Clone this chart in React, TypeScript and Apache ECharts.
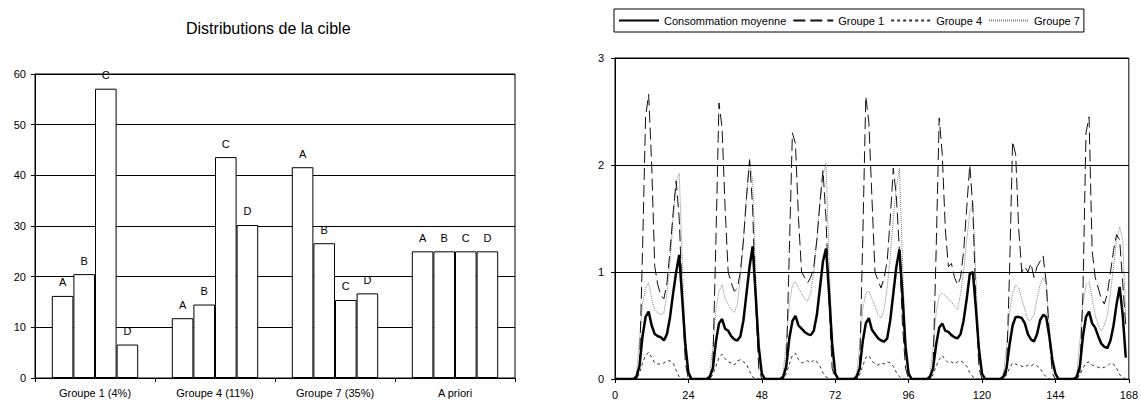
import React, { useEffect, useRef } from "react";
import * as echarts from "echarts";

// ---- Left chart data ----
const categories = ["Groupe 1 (4%)", "Groupe 4 (11%)", "Groupe 7 (35%)", "A priori"];
const classA = [16.2, 11.8, 41.6, 25];
const classB = [20.5, 14.5, 26.6, 25];
const classC = [57.1, 43.6, 15.4, 25];
const classD = [6.6, 30.2, 16.7, 25];
const barTicks = [0, 10, 20, 30, 40, 50, 60];

// ---- Right chart data (hourly, 168 hours) ----
const hourTicks = [0, 24, 48, 72, 96, 120, 144, 168];
const consommation = [
  0, 0, 0, 0, 0, 0, 0, 0.02, 0.12, 0.4, 0.58, 0.63, 0.5, 0.42, 0.4, 0.39, 0.36, 0.42, 0.58, 0.8, 1.0, 1.16, 0.74, 0.32,
  0.06, 0, 0, 0, 0, 0, 0, 0.02, 0.1, 0.35, 0.52, 0.56, 0.47, 0.45, 0.4, 0.37, 0.36, 0.4, 0.55, 0.8, 1.05, 1.24, 0.78, 0.3,
  0.05, 0, 0, 0, 0, 0, 0, 0.02, 0.12, 0.38, 0.54, 0.59, 0.5, 0.47, 0.44, 0.42, 0.41, 0.45, 0.6, 0.85, 1.1, 1.22, 0.8, 0.33,
  0.05, 0, 0, 0, 0, 0, 0, 0.02, 0.1, 0.35, 0.52, 0.57, 0.46, 0.42, 0.38, 0.36, 0.35, 0.38, 0.55, 0.8, 1.05, 1.21, 0.78, 0.3,
  0.05, 0, 0, 0, 0, 0, 0, 0.02, 0.1, 0.32, 0.48, 0.52, 0.45, 0.44, 0.41, 0.39, 0.38, 0.42, 0.55, 0.75, 0.98, 1.0, 0.66, 0.28,
  0.05, 0, 0, 0, 0, 0, 0, 0.02, 0.1, 0.32, 0.5, 0.58, 0.58, 0.57, 0.52, 0.42, 0.37, 0.35, 0.42, 0.55, 0.6, 0.58, 0.4, 0.18,
  0.05, 0, 0, 0, 0, 0, 0, 0.02, 0.12, 0.4, 0.58, 0.63, 0.52, 0.48, 0.4, 0.33, 0.3, 0.29, 0.36, 0.5, 0.7, 0.86, 0.6, 0.2,
];
const groupe1 = [
  0, 0, 0, 0, 0, 0, 0, 0, 0.1, 1.2, 2.45, 2.66, 2.0, 1.05, 0.88, 0.78, 0.75, 0.9, 1.2, 1.55, 1.85, 1.5, 0.75, 0.15,
  0, 0, 0, 0, 0, 0, 0, 0, 0.15, 1.3, 2.58, 2.35, 1.6, 1.0, 0.9, 0.82, 0.85, 1.0, 1.3, 1.7, 2.05, 1.6, 0.7, 0.1,
  0, 0, 0, 0, 0, 0, 0, 0, 0.1, 1.2, 2.3, 2.2, 1.5, 1.0, 0.95, 0.9, 0.95, 1.05, 1.3, 1.65, 1.95, 1.5, 0.7, 0.1,
  0, 0, 0, 0, 0, 0, 0, 0, 0.1, 1.3, 2.64, 2.4, 1.7, 1.0, 0.92, 0.85, 0.95, 1.1, 1.5, 1.97, 1.7, 1.2, 0.5, 0.1,
  0, 0, 0, 0, 0, 0, 0, 0, 0.1, 1.2, 2.44, 2.1, 1.4, 1.05, 1.08, 0.95, 0.88, 0.95, 1.2, 1.6, 2.0, 1.6, 0.7, 0.1,
  0, 0, 0, 0, 0, 0, 0, 0, 0.05, 1.0, 2.22, 2.1, 1.4, 1.0, 1.05, 1.0, 1.08, 0.95, 1.05, 1.1, 1.15, 0.9, 0.4, 0.05,
  0, 0, 0, 0, 0, 0, 0, 0, 0.05, 0.8, 2.3, 2.45, 1.2, 0.95, 0.85, 0.75, 0.7, 0.8, 1.0, 1.2, 1.35, 1.3, 0.9, 0.5,
];
const groupe4 = [
  0, 0, 0, 0, 0, 0, 0, 0, 0.05, 0.15, 0.22, 0.25, 0.2, 0.15, 0.14, 0.14, 0.15, 0.17, 0.17, 0.15, 0.08, 0.02, 0, 0,
  0, 0, 0, 0, 0, 0, 0, 0, 0.04, 0.12, 0.2, 0.23, 0.19, 0.16, 0.15, 0.13, 0.17, 0.18, 0.16, 0.14, 0.07, 0.02, 0, 0,
  0, 0, 0, 0, 0, 0, 0, 0, 0.05, 0.14, 0.22, 0.24, 0.18, 0.15, 0.16, 0.17, 0.15, 0.18, 0.16, 0.12, 0.06, 0.02, 0, 0,
  0, 0, 0, 0, 0, 0, 0, 0, 0.04, 0.12, 0.2, 0.22, 0.17, 0.14, 0.13, 0.15, 0.14, 0.16, 0.15, 0.12, 0.06, 0.02, 0, 0,
  0, 0, 0, 0, 0, 0, 0, 0, 0.04, 0.12, 0.18, 0.22, 0.18, 0.15, 0.16, 0.14, 0.16, 0.17, 0.15, 0.12, 0.06, 0.02, 0, 0,
  0, 0, 0, 0, 0, 0, 0, 0, 0.04, 0.1, 0.15, 0.14, 0.13, 0.12, 0.11, 0.13, 0.12, 0.14, 0.12, 0.1, 0.05, 0.02, 0, 0,
  0, 0, 0, 0, 0, 0, 0, 0, 0.04, 0.1, 0.15, 0.16, 0.13, 0.12, 0.11, 0.1, 0.11, 0.12, 0.15, 0.14, 0.1, 0.04, 0.02, 0,
];
const groupe7 = [
  0.03, 0, 0, 0, 0, 0, 0, 0.05, 0.35, 0.7, 0.85, 0.9, 0.75, 0.64, 0.62, 0.6, 0.62, 0.8, 1.1, 1.5, 1.85, 1.92, 1.1, 0.35,
  0.05, 0, 0, 0, 0, 0, 0, 0.05, 0.3, 0.65, 0.82, 0.88, 0.75, 0.7, 0.65, 0.62, 0.7, 0.95, 1.3, 1.7, 2.05, 1.85, 1.0, 0.3,
  0.05, 0, 0, 0, 0, 0, 0, 0.05, 0.35, 0.7, 0.88, 0.91, 0.85, 0.8, 0.75, 0.73, 0.8, 1.0, 1.3, 1.65, 1.9, 2.02, 1.1, 0.35,
  0.05, 0, 0, 0, 0, 0, 0, 0.05, 0.3, 0.65, 0.8, 0.82, 0.75, 0.68, 0.6, 0.57, 0.65, 0.85, 1.15, 1.5, 1.8, 1.97, 1.1, 0.35,
  0.05, 0, 0, 0, 0, 0, 0, 0.05, 0.3, 0.62, 0.78, 0.8, 0.78, 0.75, 0.72, 0.68, 0.65, 0.8, 1.0, 1.3, 1.55, 1.66, 0.95, 0.3,
  0.05, 0, 0, 0, 0, 0, 0, 0.05, 0.3, 0.62, 0.8, 0.88, 0.85, 0.75, 0.65, 0.55, 0.55, 0.6, 0.75, 0.88, 0.95, 0.9, 0.5, 0.15,
  0.05, 0, 0, 0, 0, 0, 0, 0.05, 0.35, 0.7, 0.88, 0.91, 0.75, 0.6, 0.5, 0.45, 0.5, 0.6, 0.8, 1.05, 1.3, 1.42, 1.3, 0.6,
];

const FONT = "'Liberation Sans', Arial, sans-serif";

function App() {
  const ref = useRef<HTMLDivElement>(null);

  useEffect(() => {
    if (!ref.current) return;
    const chart = echarts.init(ref.current, null, { renderer: "svg" });

    const barSeries = (name: string, data: number[]) => ({
      type: "bar",
      name,
      xAxisIndex: 0,
      yAxisIndex: 0,
      data,
      barGap: "0%",
      barCategoryGap: "28%",
      itemStyle: { color: "#ffffff", borderColor: "#000000", borderWidth: 1 },
      label: {
        show: true,
        position: "top",
        formatter: "{a}",
        color: "#000000",
        textBorderWidth: 0,
        fontSize: 11,
        fontFamily: FONT,
        distance: 8,
      },
      emphasis: { disabled: true },
    });

    const lineSeries = (name: string, data: number[], lineStyle: any, z: number) => ({
      type: "line",
      name,
      xAxisIndex: 1,
      yAxisIndex: 1,
      data: data.map((v, i) => [i, v]),
      symbol: "none",
      showSymbol: false,
      smooth: false,
      lineStyle,
      itemStyle: { color: lineStyle.color },
      z,
      emphasis: { disabled: true },
    });

    const axisLabel = { color: "#000", fontSize: 11, fontFamily: FONT };

    chart.setOption({
      animation: false,
      backgroundColor: "#ffffff",
      title: {
        text: "Distributions de la cible",
        left: 186,
        top: 20,
        padding: 0,
        textStyle: { fontSize: 16, fontWeight: "normal", color: "#000", fontFamily: FONT },
      },
      legend: {
        data: ["Consommation moyenne", "Groupe 1", "Groupe 4", "Groupe 7"],
        left: 614,
        top: 9,
        orient: "horizontal",
        itemWidth: 40,
        itemHeight: 10,
        itemGap: 6,
        padding: [6, 4, 6, 4],
        borderColor: "#000",
        borderWidth: 1,
        borderRadius: 0,
        selectedMode: false,
        itemStyle: { opacity: 0, borderWidth: 0 },
        textStyle: { color: "#000", fontSize: 11, fontFamily: FONT },
      },
      grid: [
        { left: 35, top: 74, width: 480, height: 304, show: true, borderColor: "#000", borderWidth: 1, backgroundColor: "transparent" },
        { left: 615, top: 58, width: 518, height: 321, show: true, borderColor: "#000", borderWidth: 1, backgroundColor: "transparent" },
      ],
      xAxis: [
        {
          type: "category",
          gridIndex: 0,
          data: categories,
          boundaryGap: true,
          axisLine: { show: true, lineStyle: { color: "#000", width: 1 } },
          axisTick: { show: true, length: 4, lineStyle: { color: "#000" }, alignWithLabel: false },
          axisLabel: { ...axisLabel, margin: 9, interval: 0 },
          splitLine: { show: false },
        },
        {
          type: "value",
          gridIndex: 1,
          min: hourTicks[0],
          max: hourTicks[hourTicks.length - 1],
          interval: 24,
          axisLine: { show: true, onZero: false, lineStyle: { color: "#000", width: 1 } },
          axisTick: { show: true, length: 4, lineStyle: { color: "#000" } },
          axisLabel: { ...axisLabel, margin: 10, showMaxLabel: true, showMinLabel: true },
          splitLine: { show: false },
        },
      ],
      yAxis: [
        {
          type: "value",
          gridIndex: 0,
          min: barTicks[0],
          max: barTicks[barTicks.length - 1],
          interval: 10,
          axisLine: { show: true, lineStyle: { color: "#000", width: 1 } },
          axisTick: { show: true, length: 4, lineStyle: { color: "#000" } },
          axisLabel: { ...axisLabel, margin: 9 },
          splitLine: { show: true, lineStyle: { color: "#000", width: 1 } },
        },
        {
          type: "value",
          gridIndex: 1,
          min: 0,
          max: 3,
          interval: 1,
          axisLine: { show: true, lineStyle: { color: "#000", width: 1 } },
          axisTick: { show: true, length: 4, lineStyle: { color: "#000" } },
          axisLabel: { ...axisLabel, margin: 11 },
          splitLine: { show: true, lineStyle: { color: "#000", width: 1 } },
        },
      ],
      series: [
        barSeries("A", classA),
        barSeries("B", classB),
        barSeries("C", classC),
        barSeries("D", classD),
        lineSeries("Groupe 7", groupe7, { color: "#808080", width: 1, type: [1, 1] }, 2),
        lineSeries("Groupe 4", groupe4, { color: "#333333", width: 1, type: [3, 3] }, 3),
        lineSeries("Groupe 1", groupe1, { color: "#111111", width: 1, type: [12, 5] }, 4),
        lineSeries("Consommation moyenne", consommation, { color: "#000000", width: 2.5, type: "solid" }, 5),
      ],
    });

    return () => chart.dispose();
  }, []);

  return (
    <div
      ref={ref}
      style={{ position: "absolute", left: 0, top: 0, width: 1141, height: 403, background: "#fff" }}
    />
  );
}

export default App;
